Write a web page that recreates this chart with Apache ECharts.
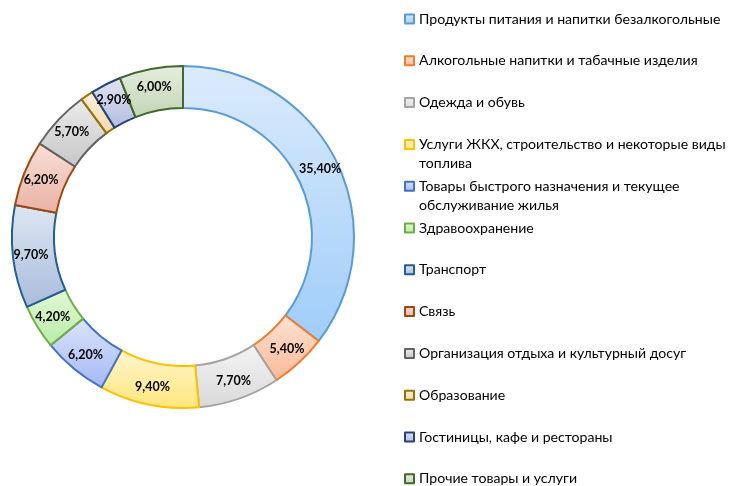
<!DOCTYPE html>
<html>
<head>
<meta charset="utf-8">
<script src="https://cdn.jsdelivr.net/npm/echarts@6/dist/echarts.min.js"></script>
<style>
    html, body { margin: 0; padding: 0; background: #fff; }
    #main { width: 733px; height: 486px; }
</style>
</head>
<body>
<div id="main"></div>
<script>
const categories = [
    'Продукты питания и напитки безалкогольные',
    'Алкогольные напитки и табачные изделия',
    'Одежда и обувь',
    'Услуги ЖКХ, строительство и некоторые виды топлива',
    'Товары быстрого назначения и текущее обслуживание жилья',
    'Здравоохранение',
    'Транспорт',
    'Связь',
    'Организация отдыха и культурный досуг',
    'Образование',
    'Гостиницы, кафе и рестораны',
    'Прочие товары и услуги'
]
const shares = [35.4, 5.4, 7.7, 9.4, 6.2, 4.2, 9.7, 6.2, 5.7, 1.2, 2.9, 6.0]

// wrapped legend text (empty first line keeps the marker on the first text line)
const legendText = {
    'Услуги ЖКХ, строительство и некоторые виды топлива': '\nУслуги ЖКХ, строительство и некоторые виды\nтоплива',
    'Товары быстрого назначения и текущее обслуживание жилья': '\nТовары быстрого назначения и текущее\nобслуживание жилья'
}

// [top colour, bottom colour, border]
const palette = [
    ['#dcebfc', '#9fcdf9', '#5b9bd5'],
    ['#fde3d4', '#fbb895', '#ed7d31'],
    ['#f4f4f4', '#d9d9d9', '#a5a5a5'],
    ['#fff6d0', '#ffe67a', '#ffc000'],
    ['#dde5fb', '#a2b7f5', '#4472c4'],
    ['#e4f7d8', '#b7eca6', '#70ad47'],
    ['#dfe6f1', '#a8bcdc', '#255e91'],
    ['#f9e0d9', '#e9b1a3', '#9e480e'],
    ['#ececec', '#c6c6c6', '#636363'],
    ['#fcefdc', '#f5d9b0', '#997300'],
    ['#e1e4f1', '#b3bce0', '#264478'],
    ['#e6eedf', '#c1d4b5', '#43682b']
]

const lineH = 19
const legends = categories.map((name, i) => {
    const h = legendText[name] ? lineH * 3 : lineH
    return {
        orient: 'vertical',
        left: 404,
        top: 19 + i * 41.8 - h / 2,
        padding: 0,
        data: [name],
        icon: 'rect',
        itemWidth: 9,
        itemHeight: 9,
        selectedMode: false,
        formatter: n => legendText[n] || n,
        textStyle: {
            fontFamily: 'Lato',
            fontSize: 14.1,
            lineHeight: lineH,
            color: '#000'
        }
    }
})

let chart = echarts.init(document.getElementById('main'))
chart.setOption({
    animation: false,
    legend: legends,
    series: [{
        type: 'pie',
        center: [183, 237],
        radius: [129, 171],
        startAngle: 90,
        clockwise: true,
        label: {
            show: true,
            position: 'inside',
            fontFamily: 'Lato',
            fontWeight: 'bold',
            fontSize: 12.5,
            color: '#000',
            formatter: p => p.value.toFixed(2).replace('.', ',') + '%'
        },
        labelLine: { show: false },
        emphasis: { disabled: true },
        data: categories.map((name, i) => ({
            name: name,
            value: shares[i],
            itemStyle: {
                color: new echarts.graphic.LinearGradient(0, 0, 0, 1, [
                    { offset: 0, color: palette[i][0] },
                    { offset: 1, color: palette[i][1] }
                ]),
                borderColor: palette[i][2],
                borderWidth: 2
            }
        }))
    }]
})
</script>
</body>
</html>
